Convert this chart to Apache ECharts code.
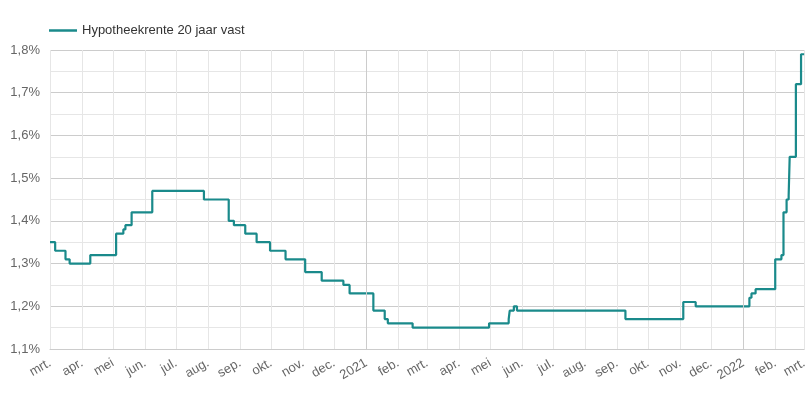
<!DOCTYPE html>
<html>
<head>
<meta charset="utf-8">
<script src="https://cdn.jsdelivr.net/npm/echarts@6/dist/echarts.min.js"></script>
<style>
html,body{margin:0;padding:0;background:#fff;}
#chart{width:810px;height:400px;}
</style>
</head>
<body>
<div id="chart"></div>
<script>
const seriesName = 'Hypotheekrente 20 jaar vast';
const dates = [
  '2020-03-01','2020-03-06','2020-03-16','2020-03-20','2020-04-09','2020-05-04','2020-05-11','2020-05-13','2020-05-19',
  '2020-06-08','2020-07-28','2020-08-21','2020-08-26','2020-09-06','2020-09-17','2020-09-30','2020-10-15','2020-11-03',
  '2020-11-19','2020-12-10','2020-12-16','2021-01-08','2021-01-19','2021-01-22','2021-02-15','2021-04-30','2021-05-19',
  '2021-05-20','2021-05-24','2021-05-27','2021-09-09','2021-11-04','2021-11-16','2022-01-07','2022-01-09','2022-01-13',
  '2022-02-01','2022-02-07','2022-02-09','2022-02-12','2022-02-14','2022-02-15','2022-02-21','2022-02-26','2022-03-01'
];
const values = [
  1.35,1.33,1.31,1.30,1.32,1.37,1.38,1.39,1.42,
  1.47,1.45,1.40,1.39,1.37,1.35,1.33,1.31,1.28,
  1.26,1.25,1.23,1.19,1.17,1.16,1.15,1.16,1.17,
  1.19,1.20,1.19,1.17,1.21,1.20,1.22,1.23,1.24,
  1.31,1.32,1.42,1.45,1.46,1.55,1.72,1.79,1.79
];
const monthLabels = ['jan.','feb.','mrt.','apr.','mei','jun.','jul.','aug.','sep.','okt.','nov.','dec.'];
const yearLines = ['2021-01-01','2022-01-01'];
const xMin = '2020-03-01', xMax = '2022-03-01';
const yMin = 1.1, yMax = 1.8, yStep = 0.1;

const chart = echarts.init(document.getElementById('chart'), null, {renderer:'canvas'});
const DAY = 86400000;
chart.setOption({
  animation:false,
  textStyle:{fontFamily:'"Liberation Sans", Arial, sans-serif'},
  legend:{
    show:true, left:44, top:19, itemWidth:28, itemHeight:12, itemGap:10,
    textStyle:{color:'#333', fontSize:13, fontFamily:'"Liberation Sans", Arial, sans-serif'},
    data:[{name:seriesName, icon:'path://M0,0 L28,0 L28,2.5 L0,2.5 Z'}]
  },
  grid:{left:50, right:0, top:50, bottom:51, containLabel:false},
  xAxis:{
    type:'time', min:xMin, max:xMax,
    minInterval:28*DAY, maxInterval:31*DAY, splitNumber:24,
    axisLine:{show:true, lineStyle:{color:'#ccc'}},
    axisTick:{show:false},
    splitLine:{show:true, lineStyle:{color:'#e6e6e6', width:1}},
    axisLabel:{
      rotate:30, margin:13, color:'#666', fontSize:13, hideOverlap:false,
      showMinLabel:true, showMaxLabel:true,
      formatter:function(v){const d=new Date(v);return d.getMonth()===0?String(d.getFullYear()):monthLabels[d.getMonth()];}
    }
  },
  yAxis:{
    type:'value', min:yMin, max:yMax, interval:yStep,
    axisLine:{show:false}, axisTick:{show:false},
    splitLine:{show:true, lineStyle:{color:'#cccccc', width:1}},
    minorTick:{show:false, splitNumber:2},
    minorSplitLine:{show:true, lineStyle:{color:'#e6e6e6', width:1}},
    axisLabel:{color:'#666', fontSize:13, margin:10,
      formatter:function(v){return v.toFixed(1).replace('.',',')+'%';}}
  },
  series:[{
    name:seriesName, type:'line', step:'end', symbol:'none', showSymbol:false,
    data:dates.map((d,i)=>[d, values[i]]),
    lineStyle:{color:'#1a8a8b', width:2.2},
    itemStyle:{color:'#1a8a8b'},
    markLine:{
      silent:true, symbol:'none', label:{show:false}, animation:false,
      lineStyle:{color:'#cccccc', type:'solid', width:1},
      data:yearLines.map(d=>({xAxis:d}))
    }
  }]
});
</script>
</body>
</html>
